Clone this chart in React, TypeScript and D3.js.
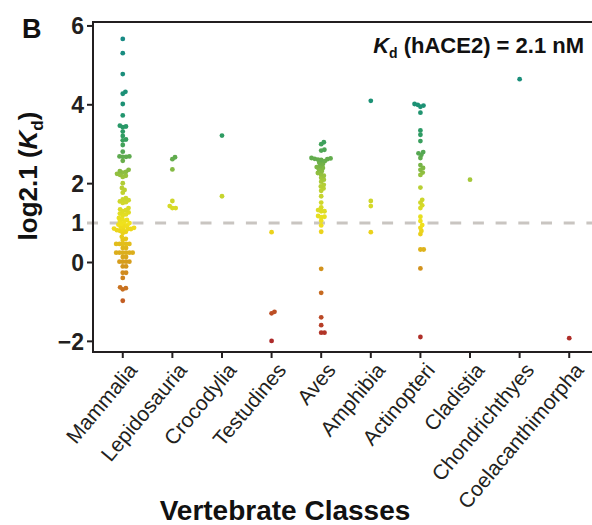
import * as d3 from 'd3'

const WIDTH = 592
const HEIGHT = 525
const PLOT = { left: 93, right: 599, top: 22, bottom: 352 }
const FONT = 'Liberation Sans, Arial, Helvetica, sans-serif'
const NARROW = 'Liberation Sans Narrow, Arial Narrow, Liberation Sans, sans-serif'

const CLASSES = [
  'Mammalia', 'Lepidosauria', 'Crocodylia', 'Testudines', 'Aves',
  'Amphibia', 'Actinopteri', 'Cladistia', 'Chondrichthyes', 'Coelacanthimorpha'
]

// log2.1(Kd) per species
const mammalia = [
  5.67, 5.31, 4.78, 4.33, 4.28, 4.02, 3.73, 3.47, 3.45, 3.43, 3.32, 3.21, 3.12, 3.10,
  2.98, 2.81, 2.69, 2.69, 2.68, 2.68, 2.58, 2.35, 2.32, 2.30, 2.28, 2.25, 2.22, 2.20,
  2.17, 2.01, 1.89, 1.84, 1.77, 1.63, 1.60, 1.58, 1.55, 1.53, 1.51, 1.38, 1.35, 1.33,
  1.30, 1.27, 1.24, 1.22, 1.20, 1.13, 1.10, 1.08, 1.05, 1.03, 1.00, 0.98, 0.96, 0.94,
  0.92, 0.90, 0.88, 0.86, 0.85, 0.85, 0.84, 0.82, 0.80, 0.78, 0.75, 0.65, 0.60, 0.57,
  0.47, 0.47, 0.47, 0.47, 0.47, 0.37, 0.37, 0.25, 0.25, 0.25, 0.25, 0.25, 0.25, 0.14,
  0.14, 0.02, 0.02, 0.02, 0.02, -0.10, -0.10, -0.26, -0.26, -0.39, -0.63, -0.65, -0.68,
  -0.97
]
const lepidosauria = [2.67, 2.62, 2.36, 1.56, 1.43, 1.38, 1.38]
const crocodylia = [3.22, 1.68]
const testudines = [0.77, -1.25, -1.29, -1.99]
const aves = [
  3.05, 3.0, 2.86, 2.84, 2.65, 2.64, 2.63, 2.62, 2.61, 2.60, 2.57, 2.53, 2.50, 2.45,
  2.42, 2.40, 2.36, 2.32, 2.27, 2.24, 2.20, 2.15, 2.10, 2.05, 1.97, 1.93, 1.88, 1.82,
  1.68, 1.52, 1.40, 1.33, 1.30, 1.30, 1.18, 1.16, 1.15, 1.06, 0.94, 0.78, -0.16, -0.77,
  -1.39, -1.59, -1.78, -1.78
]
const amphibia = [4.10, 1.56, 1.43, 0.77]
const actinopteri = [
  4.02, 4.0, 3.98, 3.95, 3.80, 3.35, 3.24, 3.08, 2.80, 2.77, 2.73, 2.65, 2.47, 2.40,
  2.35, 2.28, 2.22, 1.90, 1.59, 1.52, 1.45, 1.38, 1.16, 1.05, 0.95, 0.88, 0.80, 0.72,
  0.33, 0.33, -0.15, -1.89
]
const cladistia = [2.10]
const chondrichthyes = [4.65]
const coelacanthimorpha = [-1.92]

const GROUPS = [
  mammalia, lepidosauria, crocodylia, testudines, aves,
  amphibia, actinopteri, cladistia, chondrichthyes, coelacanthimorpha
]

const Y_TICKS = [-2, 0, 1, 2, 4, 6]
const HUMAN_KD = 1

const COLOR_STOPS = [-2, -1, 0, 1, 2, 2.6, 3.2, 4, 5.7]
const COLOR_RANGE = ['#ad2a2a', '#c25b22', '#d59c1c', '#f1e21c', '#b2cd36', '#66ad4c', '#2f9c62', '#1c9174', '#178a84']

const SPACING = 3.3

// simple beeswarm: each point goes to the free slot nearest the centre line
function swarm(values: number[], y: (v: number) => number) {
  const pts = values.map(v => ({ v, y: y(v), x: 0 })).sort((a, b) => b.y - a.y)
  const placed: { v: number; x: number; y: number }[] = []
  for (const p of pts) {
    const cands = [0]
    for (const q of placed) {
      const dy = p.y - q.y
      if (Math.abs(dy) < SPACING) {
        const dx = Math.sqrt(SPACING * SPACING - dy * dy)
        cands.push(q.x + dx, q.x - dx)
      }
    }
    cands.sort((a, b) => Math.abs(a) - Math.abs(b))
    for (const c of cands) {
      const ok = placed.every(q => (q.x - c) ** 2 + (q.y - p.y) ** 2 >= SPACING * SPACING - 1e-6)
      if (ok) { p.x = c; break }
    }
    placed.push(p)
  }
  return placed
}

export default function App() {
  const x = d3.scalePoint<string>().domain(CLASSES).range([PLOT.left, PLOT.right]).padding(0.6)
  const y = d3.scaleLinear().domain([-2.27, 6.1]).range([PLOT.bottom, PLOT.top])
  const color = d3.scaleLinear<string>().domain(COLOR_STOPS).range(COLOR_RANGE).clamp(true)

  const axisColor = '#231f20'

  return (
    <svg width={WIDTH} height={HEIGHT} style={{ position: 'absolute', left: 0, top: 0, background: '#fff' }}
      fontFamily={FONT}>
      <text x={22} y={38} fontSize={27} fontWeight="bold" fill="#111">B</text>

      {/* reference line at hACE2 Kd */}
      <line x1={87} x2={WIDTH} y1={y(HUMAN_KD)} y2={y(HUMAN_KD)}
        stroke="#c9c5c1" strokeWidth={3} strokeDasharray="11 11.7" />

      {/* points */}
      {GROUPS.map((vals, gi) => {
        const cx = x(CLASSES[gi])!
        return (
          <g key={CLASSES[gi]}>
            {swarm(vals, y).map((p, i) => (
              <circle key={i} cx={cx + p.x} cy={p.y} r={2.4} fill={color(p.v)} />
            ))}
          </g>
        )
      })}

      {/* frame */}
      <rect x={PLOT.left} y={PLOT.top} width={PLOT.right - PLOT.left} height={PLOT.bottom - PLOT.top}
        fill="none" stroke={axisColor} strokeWidth={2} />

      {/* y axis */}
      {Y_TICKS.map(t => (
        <g key={t}>
          {t !== HUMAN_KD && (
            <line x1={87} x2={PLOT.left} y1={y(t)} y2={y(t)} stroke={axisColor} strokeWidth={2} />
          )}
          <text x={84} y={y(t)} dy="0.36em" textAnchor="end" fontSize={23} fontWeight="bold" fill="#231f20">
            {t < 0 ? `\u2212${Math.abs(t)}` : t}
          </text>
        </g>
      ))}

      {/* x axis */}
      {CLASSES.map(c => (
        <g key={c}>
          <line x1={x(c)} x2={x(c)} y1={PLOT.bottom} y2={PLOT.bottom + 6} stroke={axisColor} strokeWidth={2} />
          <text transform={`translate(${x(c)! + 4},${PLOT.bottom + 9}) rotate(-50)`} textAnchor="end"
            dy="0.72em" fontSize={21} fontFamily={NARROW} fill="#231f20">
            {c}
          </text>
        </g>
      ))}

      {/* annotation */}
      <text x={584} y={53} textAnchor="end" fontSize={22} fontWeight="bold" fill="#111">
        <tspan fontStyle="italic">K</tspan>
        <tspan fontSize={14} dy={5}>d</tspan>
        <tspan dy={-5}> (hACE2) = 2.1 nM</tspan>
      </text>

      {/* axis titles */}
      <text transform={`translate(37,176) rotate(-90)`} textAnchor="middle"
        fontSize={26} fontWeight="bold" fill="#111">
        log2.1 (<tspan fontStyle="italic">K</tspan><tspan fontSize={17} dy={6}>d</tspan><tspan dy={-6}>)</tspan>
      </text>
      <text x={285} y={520} textAnchor="middle" fontSize={28} fontWeight="bold" fill="#111">
        Vertebrate Classes
      </text>
    </svg>
  )
}
